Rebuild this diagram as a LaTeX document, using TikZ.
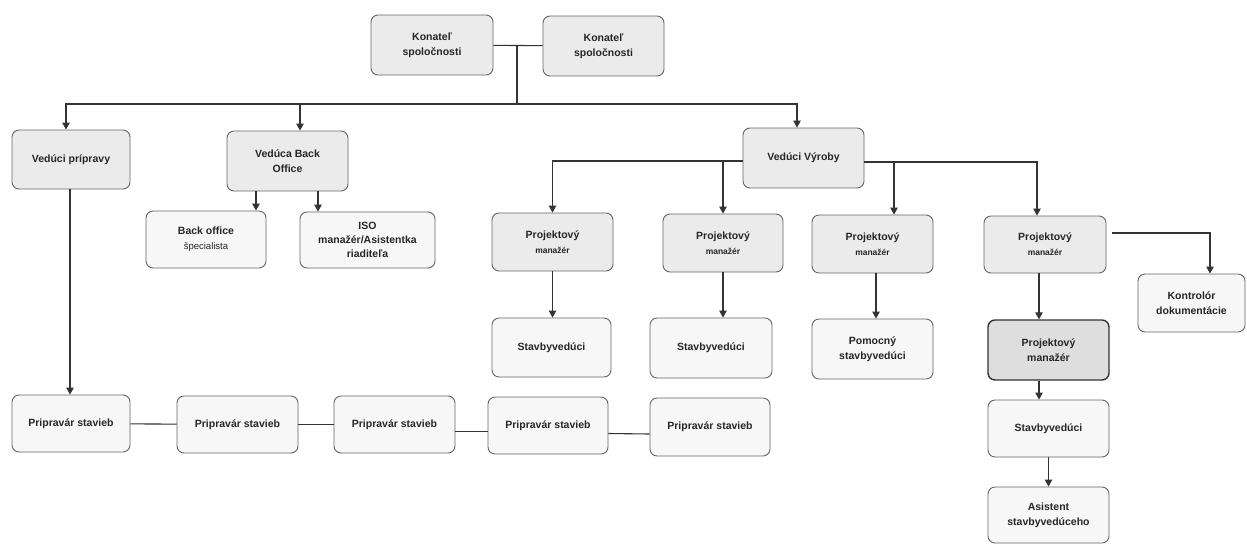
\documentclass[tikz,border=0pt]{standalone}
\usepackage{fontspec}
\setmainfont{Liberation Sans}
\usetikzlibrary{arrows.meta}
\begin{document}
\begin{tikzpicture}[x=1pt,y=-1pt,
  box/.style={draw=black!60, line width=0.9pt, rounded corners=7pt, align=center,
    font=\bfseries\fontsize{10.5}{15}\selectfont, inner sep=2pt, text=black!85},
  upper/.style={box, fill=black!8},
  lower/.style={box, fill=black!3},
  strong/.style={box, fill=black!13, draw=black!80, line width=1.4pt},
  conn/.style={draw=black!80, line width=1.1pt},
  arr/.style={conn, -{Triangle[length=7pt,width=7.5pt]}}
]
\newcommand{\smalltxt}[1]{{\fontsize{8.5}{10}\selectfont #1}}
\newcommand{\lighttxt}[1]{{\mdseries\fontsize{9.5}{11}\selectfont #1}}
\fill[white] (0,0) rectangle (1247,544);
\useasboundingbox (0,0) rectangle (1247,544);

% top
\node[upper, minimum width=122pt, minimum height=60pt] (k1) at (432,45) {Konateľ\\spoločnosti};
\node[upper, minimum width=121pt, minimum height=60pt] (k2) at (603.5,46) {Konateľ\\spoločnosti};

% second level
\node[upper, minimum width=118pt, minimum height=59pt] (vp) at (71,159.5) {Vedúci prípravy};
\node[upper, minimum width=121pt, minimum height=60pt] (vbo) at (287.5,161) {Vedúca Back\\Office};
\node[upper, minimum width=121pt, minimum height=60pt] (vv) at (803.5,158) {Vedúci Výroby};

% back office children
\node[lower, minimum width=120pt, minimum height=57pt] (bos) at (206,239.5) {Back office\\\lighttxt{špecialista}};
\node[lower, minimum width=135pt, minimum height=56pt, font=\bfseries\fontsize{10.5}{14}\selectfont] (iso) at (367.5,240) {ISO\\manažér/Asistentka\\riaditeľa};

% project managers
\node[upper, minimum width=121pt, minimum height=58pt] (pm1) at (552.5,242) {Projektový\\\smalltxt{manažér}};
\node[upper, minimum width=120pt, minimum height=58pt] (pm2) at (723,243) {Projektový\\\smalltxt{manažér}};
\node[upper, minimum width=121pt, minimum height=58pt] (pm3) at (872.5,244) {Projektový\\\smalltxt{manažér}};
\node[upper, minimum width=122pt, minimum height=57pt] (pm4) at (1045,244.5) {Projektový\\\smalltxt{manažér}};
\node[lower, minimum width=107pt, minimum height=58pt] (kd) at (1191.5,303) {Kontrolór\\dokumentácie};

% site managers
\node[lower, minimum width=119pt, minimum height=59pt] (sv1) at (551.5,347.5) {Stavbyvedúci};
\node[lower, minimum width=122pt, minimum height=60pt] (sv2) at (711,348) {Stavbyvedúci};
\node[lower, minimum width=121pt, minimum height=60pt] (psv) at (872.5,349) {Pomocný\\stavbyvedúci};
\node[strong, minimum width=121pt, minimum height=60pt] (pm5) at (1048.5,350) {Projektový\\manažér};
\node[lower, minimum width=121pt, minimum height=57pt] (sv4) at (1048.5,428.5) {Stavbyvedúci};
\node[lower, minimum width=121pt, minimum height=56pt] (as) at (1048.5,515) {Asistent\\stavbyvedúceho};

% preparers
\node[lower, minimum width=118pt, minimum height=57pt] (p1) at (71,423.5) {Pripravár stavieb};
\node[lower, minimum width=121pt, minimum height=57pt] (p2) at (237.5,424.5) {Pripravár stavieb};
\node[lower, minimum width=121pt, minimum height=57pt] (p3) at (394.5,424.5) {Pripravár stavieb};
\node[lower, minimum width=120pt, minimum height=57pt] (p4) at (548,425.5) {Pripravár stavieb};
\node[lower, minimum width=120pt, minimum height=58pt] (p5) at (710,427) {Pripravár stavieb};

% connectors from top
\coordinate (j0) at (517,45);
\coordinate (bus) at (517,104);
\draw[conn] (k1) -- (k2);
\draw[conn] (j0) -- (bus);
\draw[arr] (bus) -| ([xshift=-5pt]vp.north);
\draw[arr] (bus) -| ([xshift=12.5pt]vbo.north);
\draw[arr] (bus) -| ([xshift=-6.5pt]vv.north);

% preparation branch
\coordinate (vps) at ([xshift=-1pt]vp.south);
\draw[arr] (vps) -- (vps |- p1.north);
\draw[conn] (p1) -- (p2);
\draw[conn] (p2) -- (p3);
\draw[conn] ([yshift=-7pt]p3.east) -- ([yshift=-6pt]p4.west);
\draw[conn] ([yshift=-8pt]p4.east) -- ([yshift=-7pt]p5.west);

% back office branch
\coordinate (bo1) at ([xshift=-31.5pt]vbo.south);
\coordinate (bo2) at ([xshift=30.5pt]vbo.south);
\draw[arr] (bo1) -- (bo1 |- bos.north);
\draw[arr] (bo2) -- (bo2 |- iso.north);

% production branch
\coordinate (vvw) at ([yshift=-3pt]vv.west);
\coordinate (vve) at ([yshift=-4pt]vv.east);
\draw[arr] (vvw) -| (pm1.north);
\draw[arr] (vvw -| pm2.north) -- (pm2.north);
\draw[arr] (vve) -| ([xshift=-8pt]pm4.north);
\coordinate (pm3in) at ([xshift=21.5pt]pm3.north);
\draw[arr] (vve -| pm3in) -- (pm3in);

\draw[arr] (pm1.south) -- (pm1.south |- sv1.north);
\draw[arr] (pm2.south) -- (pm2.south |- sv2.north);
\coordinate (pm3o) at ([xshift=3.5pt]pm3.south);
\draw[arr] (pm3o) -- (pm3o |- psv.north);

\coordinate (pm4o) at ([xshift=6pt,yshift=11.5pt]pm4.east);
\draw[arr] (pm4o) -| ([xshift=18.5pt]kd.north);
\coordinate (pm4s) at ([xshift=-6pt]pm4.south);
\draw[arr] (pm4s) -- (pm4s |- pm5.north);
\coordinate (pm5s) at ([xshift=-9.5pt]pm5.south);
\draw[arr] (pm5s) -- (pm5s |- sv4.north);
\draw[arr] (sv4.south) -- (as.north);
\end{tikzpicture}
\end{document}
